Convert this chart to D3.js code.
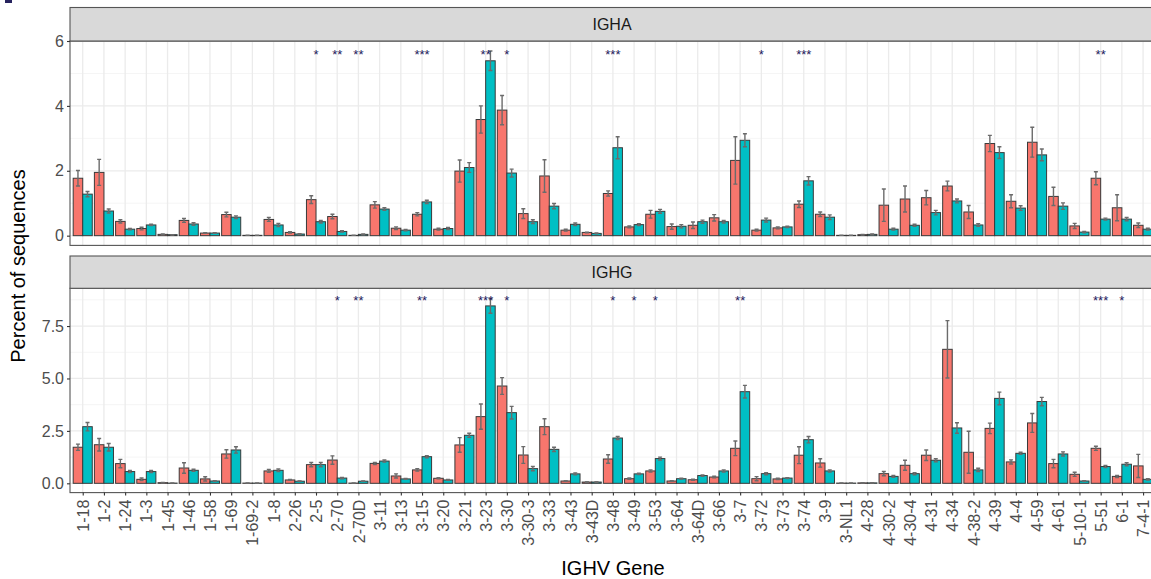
<!DOCTYPE html>
<html>
<head>
<meta charset="utf-8">
<script src="https://cdn.jsdelivr.net/npm/d3@7"></script>
<style>
  html, body { margin: 0; padding: 0; background: #ffffff; }
  svg { display: block; font-family: "Liberation Sans", Arial, Helvetica, sans-serif; }
</style>
</head>
<body>
<svg id="chart" width="1151" height="579"></svg>
<script>
// IGHV genes along the x axis
const genes = ["1-18","1-2","1-24","1-3","1-45","1-46","1-58","1-69","1-69-2","1-8",
  "2-26","2-5","2-70","2-70D","3-11","3-13","3-15","3-20","3-21","3-23",
  "3-30","3-30-3","3-33","3-43","3-43D","3-48","3-49","3-53","3-64","3-64D",
  "3-66","3-7","3-72","3-73","3-74","3-9","3-NL1","4-28","4-30-2","4-30-4",
  "4-31","4-34","4-38-2","4-39","4-4","4-59","4-61","5-10-1","5-51","6-1","7-4-1"];

// IGHA: mean percent of sequences and standard error, group 1 (red) and group 2 (teal)
const ighaGroup1 = [1.77,1.95,0.44,0.22,0.04,0.47,0.08,0.65,0.01,0.50,
  0.10,1.11,0.59,0.01,0.95,0.23,0.66,0.20,1.99,3.58,
  3.87,0.68,1.84,0.17,0.10,1.30,0.27,0.66,0.28,0.32,
  0.55,2.32,0.17,0.24,0.97,0.66,0.01,0.03,0.94,1.13,
  1.17,1.53,0.73,2.84,1.06,2.88,1.21,0.30,1.77,0.86,0.32];
const ighaGroup1Se = [0.24,0.40,0.05,0.04,0.01,0.06,0.01,0.07,0.00,0.06,
  0.02,0.12,0.07,0.00,0.10,0.04,0.05,0.03,0.34,0.42,
  0.45,0.15,0.50,0.03,0.01,0.08,0.03,0.12,0.08,0.10,
  0.10,0.73,0.03,0.03,0.10,0.07,0.00,0.01,0.50,0.40,
  0.22,0.15,0.20,0.25,0.20,0.46,0.28,0.08,0.20,0.40,0.07];
const ighaGroup2 = [1.28,0.76,0.20,0.33,0.03,0.36,0.08,0.57,0.01,0.33,
  0.05,0.43,0.13,0.04,0.82,0.17,1.04,0.22,2.10,5.39,
  1.93,0.43,0.91,0.35,0.07,2.71,0.34,0.75,0.29,0.43,
  0.43,2.94,0.48,0.27,1.69,0.57,0.01,0.04,0.20,0.32,
  0.71,1.07,0.33,2.56,0.85,2.49,0.91,0.11,0.51,0.51,0.20];
const ighaGroup2Se = [0.08,0.06,0.02,0.02,0.00,0.04,0.01,0.04,0.00,0.05,
  0.01,0.04,0.02,0.01,0.04,0.02,0.05,0.03,0.15,0.30,
  0.12,0.06,0.08,0.04,0.01,0.34,0.03,0.06,0.05,0.05,
  0.04,0.20,0.06,0.02,0.13,0.07,0.00,0.01,0.03,0.03,
  0.07,0.06,0.04,0.18,0.07,0.18,0.10,0.02,0.03,0.05,0.03];

// IGHG: mean percent of sequences and standard error
const ighgGroup1 = [1.72,1.84,0.94,0.19,0.03,0.73,0.21,1.40,0.01,0.59,
  0.16,0.89,1.11,0.01,0.95,0.35,0.64,0.24,1.83,3.18,
  4.64,1.35,2.70,0.11,0.06,1.16,0.22,0.59,0.11,0.17,
  0.30,1.67,0.22,0.21,1.34,0.97,0.01,0.02,0.46,0.86,
  1.34,6.39,1.48,2.62,1.02,2.88,0.94,0.43,1.67,0.33,0.83];
const ighgGroup1Se = [0.15,0.30,0.20,0.06,0.01,0.25,0.10,0.20,0.00,0.07,
  0.02,0.10,0.20,0.00,0.05,0.10,0.06,0.03,0.35,0.60,
  0.40,0.40,0.38,0.02,0.01,0.20,0.03,0.05,0.02,0.03,
  0.04,0.35,0.10,0.03,0.40,0.20,0.00,0.01,0.10,0.24,
  0.25,1.37,1.00,0.25,0.10,0.45,0.20,0.10,0.10,0.05,0.55];
const ighgGroup2 = [2.70,1.72,0.56,0.56,0.01,0.62,0.11,1.59,0.01,0.62,
  0.10,0.89,0.25,0.10,1.06,0.21,1.27,0.16,2.29,8.46,
  3.37,0.70,1.62,0.45,0.06,2.16,0.45,1.18,0.22,0.37,
  0.59,4.37,0.46,0.25,2.08,0.59,0.01,0.02,0.33,0.46,
  1.10,2.64,0.64,4.05,1.43,3.90,1.40,0.11,0.80,0.91,0.19];
const ighgGroup2Se = [0.20,0.18,0.05,0.05,0.00,0.05,0.02,0.15,0.00,0.06,
  0.01,0.10,0.03,0.01,0.05,0.02,0.05,0.02,0.10,0.35,
  0.30,0.10,0.10,0.05,0.01,0.07,0.03,0.07,0.02,0.03,
  0.05,0.30,0.05,0.02,0.15,0.05,0.00,0.01,0.04,0.05,
  0.07,0.25,0.08,0.30,0.05,0.20,0.10,0.02,0.05,0.07,0.03];

// Significance marks per gene
const ighaSigGenes  = ["2-5","2-70","2-70D","3-15","3-23","3-30","3-48","3-72","3-74","5-51"];
const ighaSigLabels = ["*","**","**","***","**","*","***","*","***","**"];
const ighgSigGenes  = ["2-70","2-70D","3-15","3-23","3-30","3-48","3-49","3-53","3-7","5-51","6-1"];
const ighgSigLabels = ["*","**","**","***","*","*","*","*","**","***","*"];

// Y axis breaks per facet
const ighaTicks = [0, 2, 4, 6];
const ighaTickLabels = ["0", "2", "4", "6"];
const ighgTicks = [0, 2.5, 5, 7.5];
const ighgTickLabels = ["0.0", "2.5", "5.0", "7.5"];

const colours = ["#F8766D", "#00BFC4"];

const svg = d3.select("#chart");
const panelLeft = 70, panelRight = 1155.8;
const tickFont = 16;

const x = d3.scalePoint().domain(genes).range([panelLeft, panelRight]).padding(0.6);
const step = x.step();
const dodge = 0.9 * step;
const barW = dodge / 2;

const facets = [
  { name: "IGHA", g1: ighaGroup1, s1: ighaGroup1Se, g2: ighaGroup2, s2: ighaGroup2Se,
    sigGenes: ighaSigGenes, sigLabels: ighaSigLabels, sigY: 5.69,
    ticks: ighaTicks, tickLabels: ighaTickLabels, minor: [1, 3, 5],
    stripTop: 7.5, top: 41, bottom: 245.4, domain: [-0.30, 6.0], xAxis: false },
  { name: "IGHG", g1: ighgGroup1, s1: ighgGroup1Se, g2: ighgGroup2, s2: ighgGroup2Se,
    sigGenes: ighgSigGenes, sigLabels: ighgSigLabels, sigY: 8.88,
    ticks: ighgTicks, tickLabels: ighgTickLabels, minor: [1.25, 3.75, 6.25, 8.75],
    stripTop: 256, top: 288.3, bottom: 492.6, domain: [-0.443, 9.30], xAxis: true }
];

facets.forEach(f => {
  const y = d3.scaleLinear().domain(f.domain).range([f.bottom, f.top]);
  const g = svg.append("g");
  const clipId = "clip-" + f.name;
  svg.append("clipPath").attr("id", clipId).append("rect")
    .attr("x", panelLeft).attr("y", f.top).attr("width", panelRight - panelLeft).attr("height", f.bottom - f.top);

  // panel background + grid
  g.append("rect").attr("x", panelLeft).attr("y", f.top)
    .attr("width", panelRight - panelLeft).attr("height", f.bottom - f.top).attr("fill", "#fff");
  const grid = g.append("g").attr("clip-path", `url(#${clipId})`);
  grid.selectAll("line.minor").data(f.minor).join("line")
    .attr("x1", panelLeft).attr("x2", panelRight)
    .attr("y1", d => y(d)).attr("y2", d => y(d))
    .attr("stroke", "#f2f2f2").attr("stroke-width", 0.8);
  grid.selectAll("line.major").data(f.ticks).join("line")
    .attr("x1", panelLeft).attr("x2", panelRight)
    .attr("y1", d => y(d)).attr("y2", d => y(d))
    .attr("stroke", "#ebebeb").attr("stroke-width", 1.3);
  grid.selectAll("line.vert").data(genes).join("line")
    .attr("x1", d => x(d)).attr("x2", d => x(d))
    .attr("y1", f.top).attr("y2", f.bottom)
    .attr("stroke", "#ebebeb").attr("stroke-width", 1.3);

  // bars
  const rows = genes.map((gene, i) => ({ gene, i }));
  const marks = g.append("g").attr("clip-path", `url(#${clipId})`);
  [[f.g1, f.s1, 0], [f.g2, f.s2, 1]].forEach(([vals, ses, k]) => {
    const cx = d => x(d.gene) - dodge / 2 + barW * k + barW / 2;
    marks.append("g").selectAll("rect").data(rows).join("rect")
      .attr("x", d => cx(d) - barW / 2)
      .attr("width", barW)
      .attr("y", d => y(vals[d.i]))
      .attr("height", d => y(0) - y(vals[d.i]))
      .attr("fill", colours[k])
      .attr("stroke", "#3a3a3a").attr("stroke-width", 1);
    // error bars
    const eb = marks.append("g").attr("stroke", "#6b6b6b").attr("stroke-width", 1.4);
    eb.selectAll("line.v").data(rows).join("line")
      .attr("x1", cx).attr("x2", cx)
      .attr("y1", d => y(vals[d.i] - ses[d.i])).attr("y2", d => y(vals[d.i] + ses[d.i]));
    eb.selectAll("line.t").data(rows).join("line")
      .attr("x1", d => cx(d) - 2).attr("x2", d => cx(d) + 2)
      .attr("y1", d => y(vals[d.i] + ses[d.i])).attr("y2", d => y(vals[d.i] + ses[d.i]));
    eb.selectAll("line.b").data(rows).join("line")
      .attr("x1", d => cx(d) - 2).attr("x2", d => cx(d) + 2)
      .attr("y1", d => y(vals[d.i] - ses[d.i])).attr("y2", d => y(vals[d.i] - ses[d.i]));
  });

  // significance stars
  g.append("g").selectAll("text").data(f.sigGenes).join("text")
    .attr("x", d => x(d))
    .attr("y", d => y(f.sigY) + 8)
    .attr("text-anchor", "middle")
    .attr("font-size", 13)
    .attr("fill", "#1c1a5c")
    .text((d, i) => f.sigLabels[i]);

  // panel border
  g.append("rect").attr("x", panelLeft).attr("y", f.top)
    .attr("width", panelRight - panelLeft).attr("height", f.bottom - f.top)
    .attr("fill", "none").attr("stroke", "#555").attr("stroke-width", 1.1);

  // strip
  g.append("rect").attr("x", panelLeft).attr("y", f.stripTop)
    .attr("width", panelRight - panelLeft).attr("height", f.top - f.stripTop)
    .attr("fill", "#d9d9d9").attr("stroke", "#555").attr("stroke-width", 1.1);
  g.append("text").attr("x", 612).attr("y", (f.stripTop + f.top) / 2 + 6)
    .attr("text-anchor", "middle").attr("font-size", 16).attr("fill", "#1a1a1a").text(f.name);

  // y axis
  const yAxis = d3.axisLeft(y).tickValues(f.ticks).tickSize(3).tickPadding(3)
    .tickFormat((d, i) => f.tickLabels[i]);
  const ya = g.append("g").attr("transform", `translate(${panelLeft},0)`).call(yAxis);
  ya.select(".domain").remove();
  ya.selectAll(".tick line").attr("stroke", "#333").attr("stroke-width", 1.1);
  ya.selectAll(".tick text").attr("fill", "#4d4d4d").attr("font-size", tickFont)
    .attr("font-family", "Liberation Sans, Arial, sans-serif");

  if (f.xAxis) {
    const xAxis = d3.axisBottom(x).tickSize(3).tickPadding(4);
    const xa = g.append("g").attr("transform", `translate(0,${f.bottom})`).call(xAxis);
    xa.select(".domain").remove();
    xa.selectAll(".tick line").attr("stroke", "#333").attr("stroke-width", 1.1);
    xa.selectAll(".tick text")
      .attr("fill", "#4d4d4d").attr("font-size", tickFont)
      .attr("font-family", "Liberation Sans, Arial, sans-serif")
      .attr("text-anchor", "end")
      .attr("transform", "rotate(-90)")
      .attr("x", -7).attr("y", 0).attr("dy", "0.35em");
  }
});

// axis titles
svg.append("text").attr("transform", "translate(25,266) rotate(-90)")
  .attr("text-anchor", "middle").attr("font-size", 20).attr("fill", "#000")
  .text("Percent of sequences");
svg.append("text").attr("x", 613).attr("y", 575)
  .attr("text-anchor", "middle").attr("font-size", 20).attr("fill", "#000")
  .text("IGHV Gene");

// remnant of the panel tag in the top-left corner
svg.append("rect").attr("x", 5).attr("y", 0).attr("width", 7).attr("height", 3).attr("fill", "#27235e");
</script>
</body>
</html>
